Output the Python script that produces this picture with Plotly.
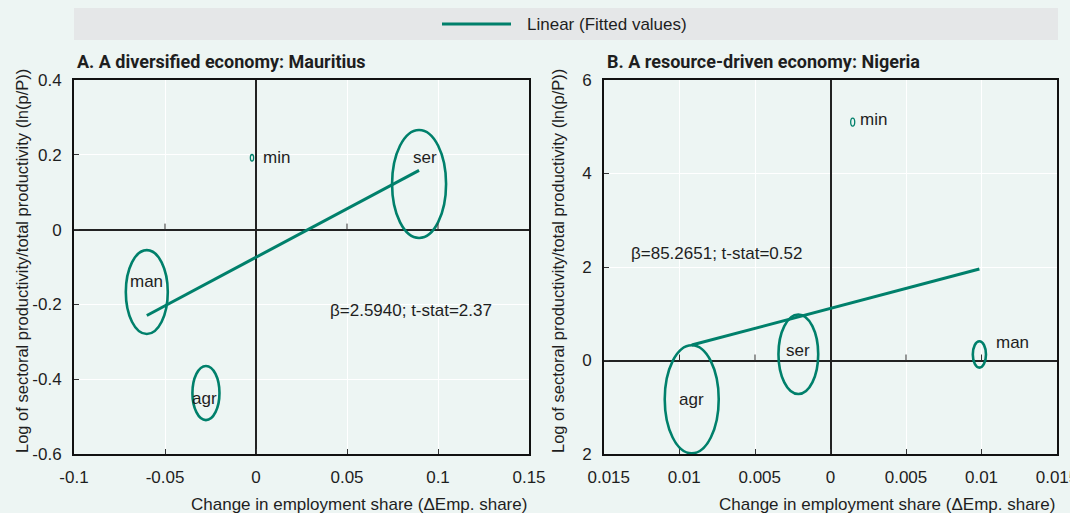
import numpy as np
import plotly.graph_objects as go

# ---------------------------------------------------------------- data
sectors = ["agr", "man", "min", "ser"]

# Mauritius: change in employment share vs. log relative productivity
mu_emp_change = [-0.0275, -0.0600, -0.0022, 0.0896]
mu_rel_prod = [-0.437, -0.167, 0.192, 0.122]
mu_emp_share = [0.135, 0.325, 0.002, 0.538]
mu_beta, mu_const, mu_tstat = 2.5940, -0.074, 2.37

# Nigeria
ng_emp_change = [-0.00919, 0.00986, 0.00147, -0.00213]
ng_rel_prod = [-0.83, 0.13, 5.10, 0.133]
ng_emp_share = [0.622, 0.037, 0.0035, 0.337]
ng_beta, ng_const, ng_tstat = 85.2651, 1.115, 0.52

mu_xticks = [-0.1, -0.05, 0, 0.05, 0.1, 0.15]
mu_xticktext = ["-0.1", "-0.05", "0", "0.05", "0.1", "0.15"]
mu_yticks = [-0.6, -0.4, -0.2, 0, 0.2, 0.4]
mu_yticktext = ["-0.6", "-0.4", "-0.2", "0", "0.2", "0.4"]

ng_xticks = [-0.015, -0.01, -0.005, 0, 0.005, 0.01, 0.015]
ng_xticktext = ["0.015", "0.01", "0.005", "0", "0.005", "0.01", "0.015"]
ng_yticks = [-2, 0, 2, 4, 6]
ng_yticktext = ["2", "0", "2", "4", "6"]

# ---------------------------------------------------------------- style
W, H = 1070, 513
FONT = "Liberation Sans, Arial, sans-serif"
FONT_BOLD = "Roboto, Liberation Sans, Arial, sans-serif"
TEAL = "#00806B"
INK = "#1E1E1E"
BG = "#EDF5F3"
BAND = "#E5E7E8"
MAX_BUBBLE_W = 54      # px width of the largest bubble in each panel
BUBBLE_ASPECT = 2.0    # bubbles are drawn as tall ellipses

# plot areas in pixels (left, right, top, bottom)
PANEL_A = (74, 529, 80, 454)
PANEL_B = (604, 1057, 80, 454)

# label placement per sector: (xanchor, xshift px, yshift px)
mu_label_pos = {"agr": ("center", -1, -5), "man": ("center", 0, 11),
                "min": ("left", 9, 0), "ser": ("center", 6, 26)}
ng_label_pos = {"agr": ("center", 0, 0), "man": ("left", 15, 12),
                "min": ("left", 5, 3), "ser": ("center", 0, 4)}


def px_domain_x(l, r):
    return [l / W, r / W]


def px_domain_y(t, b):
    return [1 - b / H, 1 - t / H]


fig = go.Figure()
shapes = []
annotations = []


def add_panel(xs, ys, shares, beta, const, tstat, label_pos, xref, yref,
              stat_x, stat_y, zero_ticks):
    # fitted regression line over the observed range
    x_fit = np.array([min(xs), max(xs)])
    fig.add_trace(go.Scatter(
        x=x_fit, y=const + beta * x_fit, mode="lines",
        line=dict(color=TEAL, width=3), xaxis=xref, yaxis=yref,
        showlegend=False, hoverinfo="skip"))
    # invisible points carrying hover info
    fig.add_trace(go.Scatter(
        x=xs, y=ys, mode="markers", marker=dict(size=10, opacity=0),
        text=sectors, hovertemplate="%{text}: %{x}, %{y}<extra></extra>",
        xaxis=xref, yaxis=yref, showlegend=False))
    top = max(shares)
    for name, x, y, s in zip(sectors, xs, ys, shares):
        w = MAX_BUBBLE_W * np.sqrt(s / top)
        h = BUBBLE_ASPECT * w
        small = w < 8
        shapes.append(dict(
            type="circle", xref=xref, yref=yref,
            xsizemode="pixel", ysizemode="pixel", xanchor=x, yanchor=y,
            x0=-w / 2, x1=w / 2, y0=-h / 2, y1=h / 2,
            line=dict(color=TEAL, width=1.3 if small else 2.6)))
        anchor, dx, dy = label_pos[name]
        annotations.append(dict(
            x=x, y=y, xref=xref, yref=yref, text=name, showarrow=False,
            xanchor=anchor, yanchor="middle", xshift=dx, yshift=dy,
            font=dict(family=FONT, size=17, color=INK)))
    annotations.append(dict(
        x=stat_x, y=stat_y, xref=xref, yref=yref,
        text=f"β={beta:.4f}; t-stat={tstat:.2f}", showarrow=False,
        xanchor="left", yanchor="middle",
        font=dict(family=FONT, size=17, color=INK)))
    # small tick marks along the horizontal zero line
    for xv in zero_ticks:
        shapes.append(dict(
            type="line", xref=xref, yref=yref, ysizemode="pixel", yanchor=0,
            x0=xv, x1=xv, y0=0, y1=6, line=dict(color="#333", width=1)))


add_panel(mu_emp_change, mu_rel_prod, mu_emp_share, mu_beta, mu_const,
          mu_tstat, mu_label_pos, "x", "y", 0.0394, -0.217, [-0.05, 0.05, 0.1])
add_panel(ng_emp_change, ng_rel_prod, ng_emp_share, ng_beta, ng_const,
          ng_tstat, ng_label_pos, "x2", "y2", -0.01332, 2.293,
          [-0.01, -0.005, 0.005, 0.01])

axis_common = dict(
    showgrid=True, gridcolor="white", gridwidth=1,
    showline=True, linecolor="#111", linewidth=2, mirror=True,
    ticks="inside", ticklen=5, tickwidth=1, tickcolor="#333",
    zeroline=True, zerolinecolor="#222", zerolinewidth=1.5,
    tickfont=dict(family=FONT, size=17, color=INK),
    ticklabeloverflow="allow",
    tickmode="array", automargin=False, fixedrange=True)
x_axis_common = dict(axis_common, ticklabelstandoff=7)
y_axis_common = dict(axis_common, ticklabelstandoff=7)

# pad negative Nigeria x labels where the minus sign would sit
ng_xticktext_padded = [("\u2007" + t) if v < 0 else t
                       for v, t in zip(ng_xticks, ng_xticktext)]

fig.update_layout(
    xaxis=dict(x_axis_common, domain=px_domain_x(PANEL_A[0], PANEL_A[1]),
               range=[-0.1, 0.15], tickvals=mu_xticks,
               ticktext=mu_xticktext, anchor="y"),
    yaxis=dict(y_axis_common, domain=px_domain_y(PANEL_A[2], PANEL_A[3]),
               range=[-0.6, 0.4], tickvals=mu_yticks,
               ticktext=mu_yticktext, anchor="x"),
    xaxis2=dict(x_axis_common, domain=px_domain_x(PANEL_B[0], PANEL_B[1]),
                range=[-0.015, 0.015], tickvals=ng_xticks,
                ticktext=ng_xticktext_padded, anchor="y2"),
    yaxis2=dict(y_axis_common, domain=px_domain_y(PANEL_B[2], PANEL_B[3]),
                range=[-2, 6], tickvals=ng_yticks,
                ticktext=ng_yticktext, anchor="x2"),
)

# legend band with a single key for the fitted line
shapes.insert(0, dict(type="rect", xref="paper", yref="paper", layer="below",
                      x0=74 / W, x1=1058 / W, y0=1 - 40 / H, y1=1 - 8 / H,
                      fillcolor=BAND, line=dict(width=0)))
shapes.append(dict(type="line", xref="paper", yref="paper",
                   x0=442 / W, x1=511 / W, y0=1 - 24 / H, y1=1 - 24 / H,
                   line=dict(color=TEAL, width=3)))
annotations.append(dict(x=525 / W, y=1 - 24 / H, xref="paper", yref="paper",
                        text="Linear (Fitted values)", showarrow=False,
                        xanchor="left", yanchor="middle",
                        font=dict(family=FONT, size=17, color=INK)))

# panel titles and axis titles
for (l, r, t, b), title, ytitle_gap in [
        (PANEL_A, "A. A diversified economy: Mauritius", 52),
        (PANEL_B, "B. A resource-driven economy: Nigeria", 46)]:
    annotations.append(dict(x=(l + 1) / W, y=1 - 61 / H, xref="paper",
                            yref="paper", text=f"<b>{title}</b>",
                            showarrow=False, xanchor="left", yanchor="middle",
                            font=dict(family=FONT_BOLD, size=18, color=INK)))
    annotations.append(dict(x=r / W, y=1 - 504 / H, xref="paper",
                            yref="paper",
                            text="Change in employment share (ΔEmp. share)",
                            showarrow=False, xanchor="right", yanchor="middle",
                            font=dict(family=FONT, size=17, color=INK)))
    annotations.append(dict(x=(l - ytitle_gap) / W, y=1 - 261 / H,
                            xref="paper", yref="paper", textangle=-90,
                            text="Log of sectoral productivity/total productivity (ln(p/P))",
                            showarrow=False, xanchor="center", yanchor="middle",
                            font=dict(family=FONT, size=16.5, color=INK)))

fig.update_layout(
    width=W, height=H, margin=dict(l=0, r=0, t=0, b=0),
    paper_bgcolor=BG, plot_bgcolor=BG,
    shapes=shapes, annotations=annotations, showlegend=False,
    font=dict(family=FONT, color=INK),
)

fig.write_html("out.html", config={"displayModeBar": False})
